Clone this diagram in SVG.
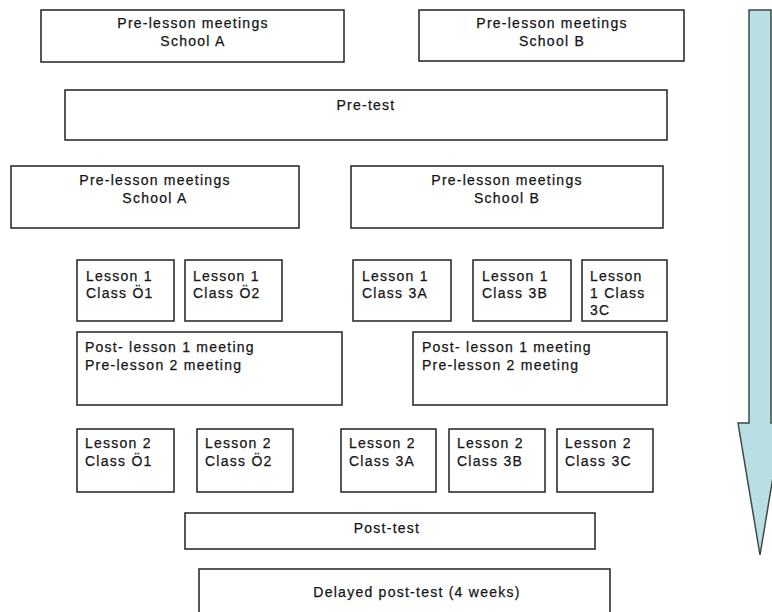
<svg xmlns="http://www.w3.org/2000/svg" width="772" height="612" viewBox="0 0 772 612">
<style>
.box{fill:#fff;stroke:#222;stroke-width:1.5}
text{font-family:"Liberation Sans",Arial,sans-serif;font-size:14px;fill:#151515;stroke:#151515;stroke-width:0.25;letter-spacing:1.25px}
.c{text-anchor:middle}
</style>
<rect width="772" height="612" fill="#fff"/>
<g id="arrow">
<polygon points="749,10 771,10 771,423 782,423 760,555 738,423 749,423" fill="#b9dfe3" stroke="#3a4a4a" stroke-width="1.5"/>
</g>
<g id="pre-a1"><rect class="box" x="41" y="10" width="303" height="52"/><text class="c" x="193" y="28">Pre-lesson meetings</text><text class="c" x="193" y="46">School A</text></g>
<g id="pre-b1"><rect class="box" x="419" y="10" width="265" height="51"/><text class="c" x="552" y="28">Pre-lesson meetings</text><text class="c" x="552" y="46">School B</text></g>
<g id="pretest"><rect class="box" x="65" y="90" width="602" height="50"/><text class="c" x="366" y="110">Pre-test</text></g>
<g id="pre-a2"><rect class="box" x="11" y="166" width="288" height="62"/><text class="c" x="155" y="185">Pre-lesson meetings</text><text class="c" x="155" y="203">School A</text></g>
<g id="pre-b2"><rect class="box" x="351" y="166" width="312" height="62"/><text class="c" x="507" y="185">Pre-lesson meetings</text><text class="c" x="507" y="203">School B</text></g>
<g id="l1-o1"><rect class="box" x="77" y="260" width="97" height="61"/><text x="86" y="281">Lesson 1</text><text x="86" y="298">Class Ö1</text></g>
<g id="l1-o2"><rect class="box" x="185" y="260" width="97" height="61"/><text x="193" y="281">Lesson 1</text><text x="193" y="298">Class Ö2</text></g>
<g id="l1-3a"><rect class="box" x="353" y="260" width="98" height="61"/><text x="362" y="281">Lesson 1</text><text x="362" y="298">Class 3A</text></g>
<g id="l1-3b"><rect class="box" x="473" y="260" width="98" height="61"/><text x="482" y="281">Lesson 1</text><text x="482" y="298">Class 3B</text></g>
<g id="l1-3c"><rect class="box" x="582" y="260" width="85" height="61"/><text x="590" y="281">Lesson</text><text x="590" y="298">1 Class</text><text x="590" y="315">3C</text></g>
<g id="post1-a"><rect class="box" x="77" y="332" width="265" height="73"/><text x="85" y="352">Post- lesson 1 meeting</text><text x="85" y="370">Pre-lesson 2 meeting</text></g>
<g id="post1-b"><rect class="box" x="413" y="332" width="254" height="73"/><text x="422" y="352">Post- lesson 1 meeting</text><text x="422" y="370">Pre-lesson 2 meeting</text></g>
<g id="l2-o1"><rect class="box" x="77" y="429" width="97" height="63"/><text x="85" y="448">Lesson 2</text><text x="85" y="466">Class Ö1</text></g>
<g id="l2-o2"><rect class="box" x="197" y="429" width="96" height="63"/><text x="205" y="448">Lesson 2</text><text x="205" y="466">Class Ö2</text></g>
<g id="l2-3a"><rect class="box" x="341" y="429" width="95" height="63"/><text x="349" y="448">Lesson 2</text><text x="349" y="466">Class 3A</text></g>
<g id="l2-3b"><rect class="box" x="449" y="429" width="96" height="63"/><text x="457" y="448">Lesson 2</text><text x="457" y="466">Class 3B</text></g>
<g id="l2-3c"><rect class="box" x="557" y="429" width="96" height="63"/><text x="565" y="448">Lesson 2</text><text x="565" y="466">Class 3C</text></g>
<g id="posttest"><rect class="box" x="185" y="513" width="410" height="36"/><text class="c" x="387" y="533">Post-test</text></g>
<g id="delayed"><rect class="box" x="199" y="569" width="411" height="60"/><text class="c" x="417" y="597">Delayed post-test (4 weeks)</text></g>
<g id="connectors"></g>
</svg>
